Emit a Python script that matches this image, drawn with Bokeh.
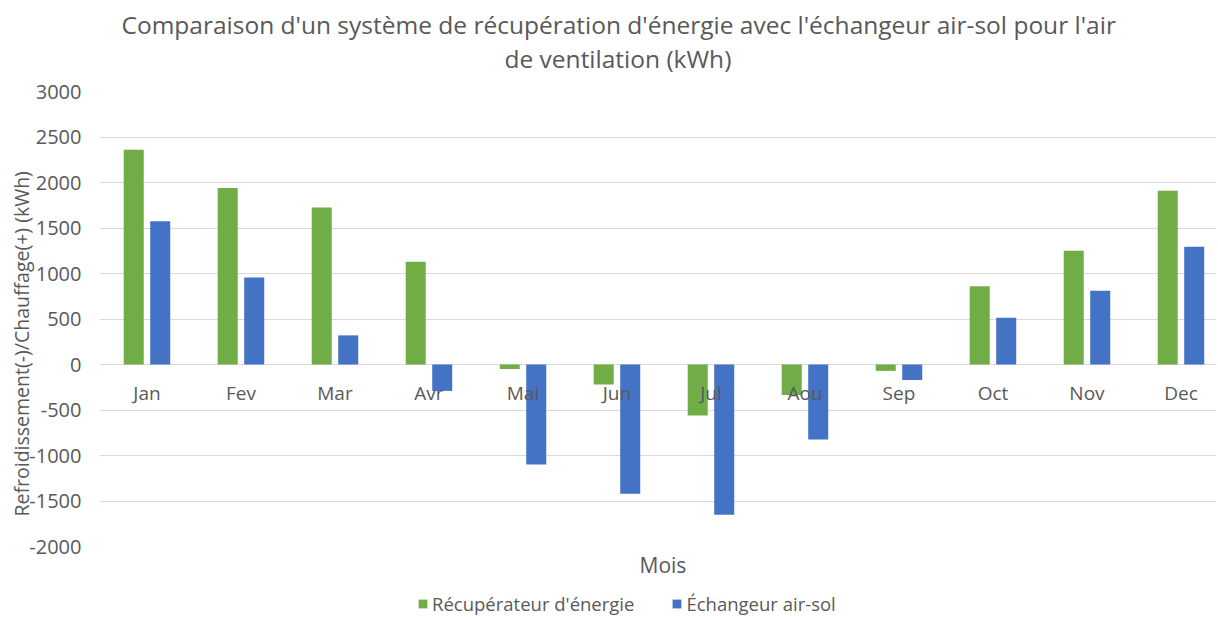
from bokeh.plotting import figure
from bokeh.layouts import column
from bokeh.models import (Range1d, FixedTicker, Title, Legend, LegendItem,
                          ColumnDataSource)
from bokeh.core.properties import value
from bokeh.embed import file_html
from bokeh.resources import INLINE

months = ["Jan", "Fev", "Mar", "Avr", "Mai", "Jun", "Jul", "Aou", "Sep", "Oct", "Nov", "Dec"]
recuperateur = [2360, 1940, 1725, 1130, -50, -220, -560, -335, -70, 860, 1250, 1910]
echangeur = [1575, 955, 320, -290, -1100, -1420, -1650, -825, -170, 515, 810, 1295]
y_ticks = [-2000, -1500, -1000, -500, 0, 500, 1000, 1500, 2000, 2500, 3000]

title_line1 = "Comparaison d'un système de récupération d'énergie avec l'échangeur air-sol pour l'air"
title_line2 = "de ventilation (kWh)"
y_label = "Refroidissement(-)/Chauffage(+)  (kWh)"
x_label = "Mois"
series_names = ["Récupérateur d'énergie", "Échangeur air-sol"]

GREEN = "#70AD47"
BLUE = "#4472C4"
TXT = "#595959"
FONT = "Open Sans"
W = 1216

idx = list(range(len(months)))
src = ColumnDataSource(dict(
    x=idx,
    xg=[i - 0.141 for i in idx],
    xb=[i + 0.141 for i in idx],
    rec=recuperateur,
    ech=echangeur,
    month=months,
    zero=[0] * len(months),
))

p = figure(width=W, height=580, output_backend="svg", toolbar_location=None,
           x_range=Range1d(-0.505, 11.378), y_range=Range1d(-2000, 3000),
           min_border_left=99, min_border_right=0, min_border_top=91,
           min_border_bottom=34)
p.outline_line_color = None
p.background_fill_color = "white"
p.border_fill_color = "white"

g = p.vbar(x="xg", top="rec", bottom=0, width=0.213, source=src,
           fill_color=GREEN, line_color=None)
b = p.vbar(x="xb", top="ech", bottom=0, width=0.213, source=src,
           fill_color=BLUE, line_color=None)

p.text(x="x", y="zero", text="month", source=src, y_offset=28,
       text_align="center", text_baseline="middle",
       text_font=value(FONT), text_font_size="19px", text_color=TXT)

# axes
p.xaxis.visible = False
p.xgrid.visible = False
p.yaxis.ticker = FixedTicker(ticks=y_ticks)
p.yaxis.major_label_overrides = {t: str(t) for t in y_ticks}
p.yaxis.axis_line_color = None
p.yaxis.major_tick_line_color = None
p.yaxis.minor_tick_line_color = None
p.yaxis.major_label_standoff = 12
p.yaxis.major_label_text_font = FONT
p.yaxis.major_label_text_font_size = "20px"
p.yaxis.major_label_text_color = TXT
p.ygrid.ticker = FixedTicker(ticks=y_ticks)
p.ygrid.grid_line_color = "#d9d9d9"
p.ygrid.grid_line_width = 1

# titles (first added is nearest the frame)
p.add_layout(Title(text=title_line2, align="left", offset=405, standoff=34,
                   text_font=FONT, text_font_size="24.5px", text_font_style="normal",
                   text_color=TXT), "above")
p.add_layout(Title(text=title_line1, align="left", offset=22, standoff=-37,
                   text_font=FONT, text_font_size="24.5px", text_font_style="normal",
                   text_color=TXT), "above")
p.add_layout(Title(text=y_label, align="left", offset=30, standoff=-16,
                   text_font=FONT, text_font_size="19.5px", text_font_style="normal",
                   text_color=TXT), "left")
p.add_layout(Title(text=x_label, align="left", offset=540, standoff=4,
                   text_font=FONT, text_font_size="21px", text_font_style="normal",
                   text_color=TXT), "below")

# legend strip under the chart (hidden copies of the series give the swatches)
p2 = figure(width=W, height=36, output_backend="svg", toolbar_location=None,
            x_range=Range1d(0, 1), y_range=Range1d(0, 1), min_border=0)
p2.axis.visible = False
p2.grid.visible = False
p2.outline_line_color = None
p2.border_fill_color = "white"
lg = p2.vbar(x="xg", top="rec", bottom=0, width=0.213, source=src,
             fill_color=GREEN, line_color=None, visible=False)
lb = p2.vbar(x="xb", top="ech", bottom=0, width=0.213, source=src,
             fill_color=BLUE, line_color=None, visible=False)
legend = Legend(items=[LegendItem(label=series_names[0], renderers=[lg]),
                       LegendItem(label=series_names[1], renderers=[lb])],
                orientation="horizontal", location=(318, 0),
                glyph_width=11, glyph_height=11, label_standoff=4, spacing=37,
                padding=0, margin=0, border_line_color=None,
                background_fill_alpha=0, inactive_fill_alpha=0,
                label_text_font=FONT, label_text_font_size="18.5px",
                label_text_color=TXT)
p2.add_layout(legend, "center")

layout = column(p, p2, spacing=0)
open("out.html", "w").write(file_html(layout, INLINE))
